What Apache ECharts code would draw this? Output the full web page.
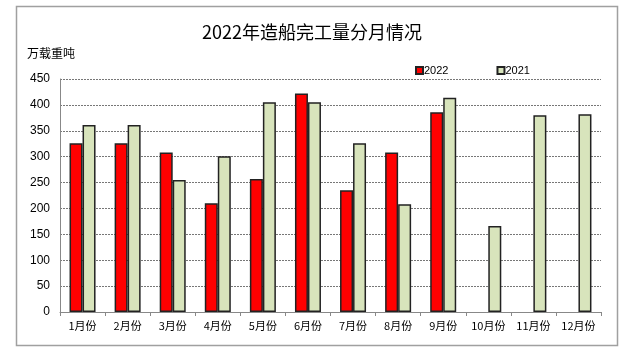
<!DOCTYPE html>
<html><head><meta charset="utf-8">
<script src="https://cdn.jsdelivr.net/npm/echarts@6/dist/echarts.min.js"></script>
<style>html,body{margin:0;padding:0;background:#fff;}#c{width:624px;height:356px;}</style>
</head><body><div id="c"></div>
<script>
var categories = ['1月份','2月份','3月份','4月份','5月份','6月份','7月份','8月份','9月份','10月份','11月份','12月份'];
var values2022 = [326, 326, 308, 210, 257, 422, 235, 308, 386, null, null, null];
var values2021 = [361, 361, 255, 301, 405, 405, 326, 208, 414, 166, 380, 382];
var yTicks = [0, 450, 50];

var chart = echarts.init(document.getElementById('c'), null, {renderer:'canvas'});
var font = '"Noto Sans CJK SC", "Liberation Sans", sans-serif';
chart.setOption({
  animation: false,
  backgroundColor: '#fff',
  graphic: [{
    type: 'rect', left: 14, top: 4, shape: {width: 601, height: 339},
    style: {fill: 'none', stroke: '#a0a0a0', lineWidth: 1.5}, silent: true
  }, {
    type: 'text', left: 27, top: 47,
    style: {text: '万载重吨', fontSize: 12, fill: '#000', fontFamily: font}
  }],
  title: {
    text: '2022年造船完工量分月情况', left: 'center', top: 18,
    textStyle: {fontSize: 18, fontWeight: 'normal', color: '#000', fontFamily: font}
  },
  legend: {
    data: ['2022', '2021'], left: 410, top: 60, itemGap: 48,
    itemWidth: 7, itemHeight: 7, icon: 'rect',
    textStyle: {fontSize: 11, color: '#000', fontFamily: '"Liberation Sans", Arial, sans-serif', padding: [0,0,0,-4]}
  },
  grid: {left: 60, right: 23, top: 79, bottom: 44},
  xAxis: {
    type: 'category', data: categories,
    axisLine: {lineStyle: {color: '#888', width: 1}},
    axisTick: {show: true, length: 4, lineStyle: {color: '#888'}},
    axisLabel: {fontSize: 11, color: '#000', fontFamily: font, margin: 8, interval: 0}
  },
  yAxis: {
    type: 'value', min: yTicks[0], max: yTicks[1], interval: yTicks[2],
    axisLine: {show: true, lineStyle: {color: '#888', width: 1}},
    axisTick: {show: false},
    splitLine: {lineStyle: {color: '#777', type: [2, 1], width: 1}},
    axisLabel: {fontSize: 12, color: '#000', fontFamily: '"Liberation Sans", Arial, sans-serif', margin: 10}
  },
  series: [{
    name: '2022', type: 'bar', data: values2022, barWidth: 13, barGap: '0%',
    itemStyle: {color: '#ff0000', borderColor: '#222', borderWidth: 1.5}
  }, {
    name: '2021', type: 'bar', data: values2021, barWidth: 13,
    itemStyle: {color: '#d8e4bc', borderColor: '#222', borderWidth: 1.5}
  }]
});
</script></body></html>
